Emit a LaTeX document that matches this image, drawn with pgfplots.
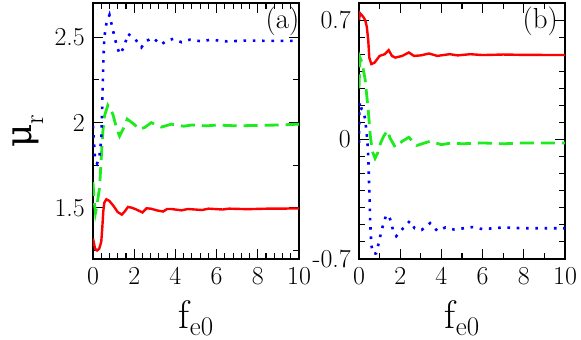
\documentclass[border=0pt]{standalone}
\usepackage{fontspec}
\newfontfamily\grk{DejaVu Serif}
\usepackage{pgfplots}
\pgfplotsset{compat=1.18}

\definecolor{gRed}{RGB}{255,0,0}
\definecolor{gGreen}{RGB}{30,235,30}
\definecolor{gBlue}{RGB}{0,0,255}

\newcommand{\tsize}{\rmfamily\fontsize{26}{26}\selectfont}

\pgfplotsset{
  panel/.style={
    scale only axis,
    width=206bp, height=256bp,
    xmin=0, xmax=10,
    xtick={0,2,4,6,8,10},
    axis line style={line width=1.2bp},
    every tick/.style={black, line width=1.1bp},
    major tick length=10bp,
    minor tick length=6bp,
    tick label style={font=\tsize, inner sep=1.5bp},
    xticklabel style={yshift=-6.5bp},
    yticklabel style={xshift=-6.5bp},
    /pgf/number format/assume math mode=true,
    xlabel={f\raisebox{-7bp}{\fontsize{27}{27}\selectfont e0}},
    xlabel style={font=\rmfamily\fontsize{40}{40}\selectfont,
      at={(axis description cs:0.5,-0.27)}, anchor=base},
    clip=true,
  },
  redline/.style={gRed, line width=2.4bp},
  greenline/.style={gGreen, line width=2.8bp, dash pattern=on 14bp off 7bp},
  blueline/.style={gBlue, line width=2.6bp, dash pattern=on 2.6bp off 6.7bp},
}

\begin{document}
\begin{tikzpicture}
\useasboundingbox (-93bp,-81bp) rectangle (488bp,259bp);

% panel (a)
\begin{axis}[panel, at={(0,0)},
  ymin=1.2, ymax=2.7,
  ytick={1.5,2,2.5},
  yticklabels={1.5,2,2.5},
  minor xtick={0.4,0.8,...,9.6},
  minor ytick={1.25,1.75,2.25},
  ylabel={{\grk\fontsize{36}{36}\selectfont μ}\raisebox{-12bp}{\fontsize{27}{27}\selectfont r}},
  ylabel style={font=\rmfamily\fontsize{36}{36}\selectfont, inner sep=0pt,
    at={(axis description cs:-0.30,0.5)}, anchor=base},
]
\addplot[redline] coordinates {
(0,1.32) (0.1,1.26) (0.2,1.25) (0.3,1.26) (0.4,1.3) (0.45,1.38) (0.5,1.48)
(0.55,1.53) (0.65,1.55) (0.8,1.54) (1.0,1.51) (1.2,1.475) (1.4,1.46)
(1.55,1.48) (1.7,1.505) (1.9,1.50) (2.1,1.49) (2.4,1.473) (2.6,1.497)
(2.8,1.495) (3.1,1.485) (3.4,1.478) (3.6,1.493) (3.8,1.493) (4.3,1.485)
(4.6,1.493) (5.3,1.487) (5.6,1.495) (6.3,1.49) (6.6,1.495) (7.5,1.492)
(8.5,1.495) (10,1.496)
};
\addplot[greenline] coordinates {
(0,1.65) (0.05,1.55) (0.12,1.47) (0.2,1.52) (0.32,1.62) (0.4,1.79)
(0.48,1.95) (0.56,2.04) (0.72,2.1) (0.96,2.05) (1.16,1.96) (1.29,1.92)
(1.5,1.97) (1.66,2.02) (1.99,1.99) (2.26,1.96) (2.5,1.97) (2.83,1.999)
(3.32,1.973) (3.8,1.99) (4.4,1.978) (4.8,1.985) (5.5,1.98) (6,1.985)
(7,1.98) (8,1.983) (9,1.985) (10,1.99)
};
\addplot[blueline] coordinates {
(0,1.98) (0.05,1.88) (0.1,1.78) (0.2,1.76) (0.3,1.79) (0.4,1.9)
(0.45,2.1) (0.5,2.35) (0.55,2.5) (0.65,2.58) (0.8,2.63) (0.95,2.55)
(1.15,2.45) (1.3,2.4) (1.5,2.44) (1.7,2.52) (1.9,2.50) (2.1,2.48)
(2.35,2.44) (2.55,2.475) (2.9,2.496) (3.3,2.457) (3.6,2.48) (3.9,2.49)
(4.3,2.47) (4.7,2.485) (5.3,2.475) (5.7,2.485) (6.5,2.475) (7.5,2.48)
(8.5,2.478) (10,2.478)
};
\node[font=\rmfamily\fontsize{29}{29}\selectfont, anchor=center] at (rel axis cs:0.92,0.93) {(a)};
\end{axis}

% panel (b)
\begin{axis}[panel, at={(266bp,0)},
  ymin=-0.7, ymax=0.8,
  ytick={-0.7,0,0.7},
  yticklabels={-0.7,0,0.7},
  minor xtick={1,3,5,7,9},
  minor ytick={-0.6,-0.5,-0.4,-0.3,-0.2,-0.1,0.1,0.2,0.3,0.4,0.5,0.6,0.8},
]
\addplot[redline] coordinates {
(0,0.70) (0.05,0.74) (0.2,0.72) (0.3,0.70) (0.38,0.66) (0.45,0.58)
(0.5,0.48) (0.6,0.442) (0.75,0.45) (1.0,0.49) (1.25,0.5) (1.44,0.524)
(1.6,0.49) (1.76,0.48) (2.1,0.49) (2.42,0.51) (2.67,0.49) (3.0,0.493)
(3.4,0.504) (3.8,0.49) (4.4,0.5) (4.8,0.493) (5.4,0.5) (6,0.495)
(7,0.498) (8,0.496) (10,0.495)
};
\addplot[greenline] coordinates {
(0,0.3) (0.05,0.48) (0.15,0.45) (0.3,0.35) (0.45,0.17) (0.55,0.02)
(0.65,-0.07) (0.78,-0.11) (0.9,-0.08) (1.05,-0.02) (1.2,0.02) (1.38,0.053)
(1.5,0.01) (1.76,-0.045) (2.1,-0.01) (2.42,0.013) (2.8,-0.035) (3.45,-0.01)
(4,-0.03) (4.5,-0.02) (5,-0.025) (6,-0.02) (7,-0.025) (8,-0.02) (10,-0.02)
};
\addplot[blueline] coordinates {
(0,-0.02) (0.02,0.2) (0.06,0.22) (0.12,0.18) (0.2,0.17) (0.3,0.12)
(0.4,0.0) (0.45,-0.1) (0.5,-0.3) (0.55,-0.5) (0.6,-0.62) (0.7,-0.67)
(0.83,-0.667) (0.95,-0.61) (1.1,-0.53) (1.3,-0.45) (1.4,-0.44) (1.52,-0.47)
(1.65,-0.53) (1.81,-0.566) (2.14,-0.52) (2.47,-0.477) (2.7,-0.52)
(3.04,-0.53) (3.45,-0.49) (3.8,-0.535) (4.2,-0.515) (4.6,-0.527)
(5.1,-0.52) (5.5,-0.513) (6,-0.525) (7,-0.515) (8,-0.52) (10,-0.52)
};
\node[font=\rmfamily\fontsize{29}{29}\selectfont, anchor=center] at (rel axis cs:0.88,0.93) {(b)};
\end{axis}
\end{tikzpicture}
\end{document}
